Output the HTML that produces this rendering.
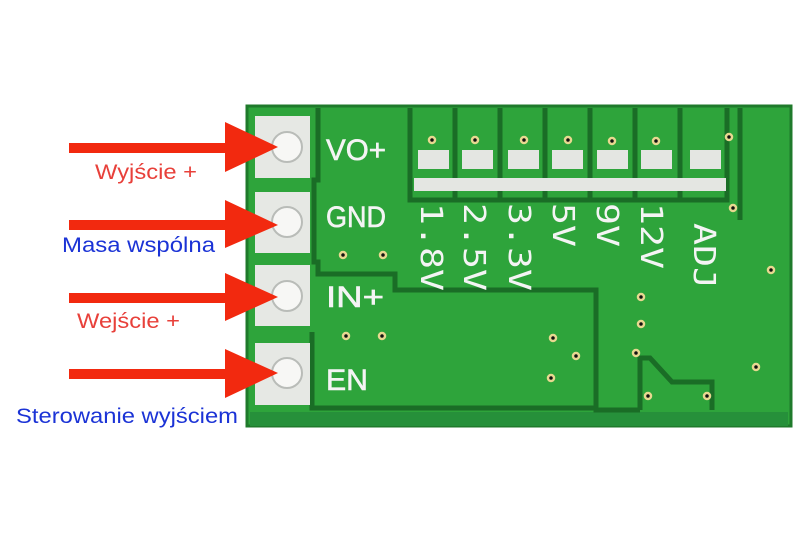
<!DOCTYPE html>
<html><head><meta charset="utf-8"><style>
html,body{margin:0;padding:0;background:#fff;width:800px;height:544px;overflow:hidden}
svg{display:block}
.l{font-family:"Liberation Sans",sans-serif;font-size:21px}
.s{font-family:"DejaVu Sans Mono","Liberation Mono",monospace;fill:#f4f4f4;font-size:30px}
</style></head><body>
<svg width="800" height="544" viewBox="0 0 800 544">
<rect x="247" y="106" width="544" height="320" fill="#2ea43b"/>
<rect x="247" y="106" width="544" height="320" fill="none" stroke="#1f7a2b" stroke-width="3"/>
<rect x="250" y="412" width="538" height="14" fill="#26903a"/>
<g fill="none" stroke="#1a6d26" stroke-width="5">
<path d="M318 108 V180 H314 V262 H318 V274 H395 V290 H596 V410 H640"/>
<path d="M410 108 V200 H727 V108"/>
<path d="M455 108 V200 M500 108 V200 M545 108 V200 M590 108 V200 M635 108 V200 M680 108 V200"/>
<path d="M740 108 V220"/>
<path d="M312 332 V408 H596"/>
<path d="M640 410 V358 H650 L672 382 H712 V410"/>
</g>
<g fill="#e6e8e4">
<rect x="255" y="116" width="55" height="62"/>
<rect x="255" y="192" width="55" height="61"/>
<rect x="255" y="265" width="55" height="61"/>
<rect x="255" y="343" width="55" height="62"/>
</g>
<g fill="#f7f7f5" stroke="#b9bcb8" stroke-width="2">
<circle cx="287" cy="147" r="15"/><circle cx="287" cy="222" r="15"/>
<circle cx="287" cy="296" r="15"/><circle cx="287" cy="373" r="15"/>
</g>
<g fill="#e4e6e2">
<rect x="418" y="150" width="31" height="19"/><rect x="462" y="150" width="31" height="19"/>
<rect x="508" y="150" width="31" height="19"/><rect x="552" y="150" width="31" height="19"/>
<rect x="597" y="150" width="31" height="19"/><rect x="641" y="150" width="31" height="19"/>
<rect x="690" y="150" width="31" height="19"/>
<rect x="414" y="178" width="312" height="13"/>
</g>
<g fill="#111" stroke="#e8d890" stroke-width="2.5">
<circle cx="432" cy="140" r="3"/><circle cx="475" cy="140" r="3"/><circle cx="524" cy="140" r="3"/>
<circle cx="568" cy="140" r="3"/><circle cx="612" cy="141" r="3"/><circle cx="656" cy="141" r="3"/>
<circle cx="729" cy="137" r="3"/><circle cx="733" cy="208" r="3"/><circle cx="771" cy="270" r="3"/>
<circle cx="343" cy="255" r="3"/><circle cx="383" cy="255" r="3"/>
<circle cx="346" cy="336" r="3"/><circle cx="382" cy="336" r="3"/>
<circle cx="641" cy="297" r="3"/><circle cx="641" cy="324" r="3"/>
<circle cx="553" cy="338" r="3"/><circle cx="576" cy="356" r="3"/><circle cx="551" cy="378" r="3"/>
<circle cx="636" cy="353" r="3"/><circle cx="756" cy="367" r="3"/>
<circle cx="648" cy="396" r="3"/><circle cx="707" cy="396" r="3"/>
</g>
<g class="s" style="font-family:'Liberation Sans',sans-serif;font-size:30px" stroke="#f4f4f4" stroke-width="0.6">
<text x="326" y="160" textLength="60" lengthAdjust="spacingAndGlyphs">VO+</text>
<text x="326" y="227" textLength="60" lengthAdjust="spacingAndGlyphs">GND</text>
<text x="326" y="307" textLength="58" lengthAdjust="spacingAndGlyphs">IN+</text>
<text x="326" y="390" textLength="42" lengthAdjust="spacingAndGlyphs">EN</text>
</g>
<g class="s">
<text transform="translate(421,203) rotate(90)" textLength="88" lengthAdjust="spacingAndGlyphs">1.8V</text>
<text transform="translate(464,203) rotate(90)" textLength="88" lengthAdjust="spacingAndGlyphs">2.5V</text>
<text transform="translate(509,203) rotate(90)" textLength="88" lengthAdjust="spacingAndGlyphs">3.3V</text>
<text transform="translate(553,203) rotate(90)" textLength="44" lengthAdjust="spacingAndGlyphs">5V</text>
<text transform="translate(597,203) rotate(90)" textLength="44" lengthAdjust="spacingAndGlyphs">9V</text>
<text transform="translate(641,203) rotate(90)" textLength="66" lengthAdjust="spacingAndGlyphs">12V</text>
<text transform="translate(694,223) rotate(90)" textLength="66" lengthAdjust="spacingAndGlyphs">ADJ</text>
</g>
<g fill="#f2290f">
<rect x="69" y="143" width="160" height="10"/><polygon points="225,122 278,147 225,172"/>
<rect x="69" y="220" width="160" height="10"/><polygon points="225,200 278,225 225,248"/>
<rect x="69" y="293" width="160" height="10"/><polygon points="225,273 278,297 225,321"/>
<rect x="69" y="369" width="160" height="10"/><polygon points="225,349 278,373 225,398"/>
</g>
<text class="l" x="95" y="179" fill="#e8403a" textLength="102" lengthAdjust="spacingAndGlyphs">Wyjście +</text>
<text class="l" x="62" y="252" fill="#1b33d6" textLength="153" lengthAdjust="spacingAndGlyphs">Masa wspólna</text>
<text class="l" x="77" y="328" fill="#e8403a" textLength="103" lengthAdjust="spacingAndGlyphs">Wejście +</text>
<text class="l" x="16" y="423" fill="#1b33d6" textLength="222" lengthAdjust="spacingAndGlyphs">Sterowanie wyjściem</text>
</svg>
</body></html>
